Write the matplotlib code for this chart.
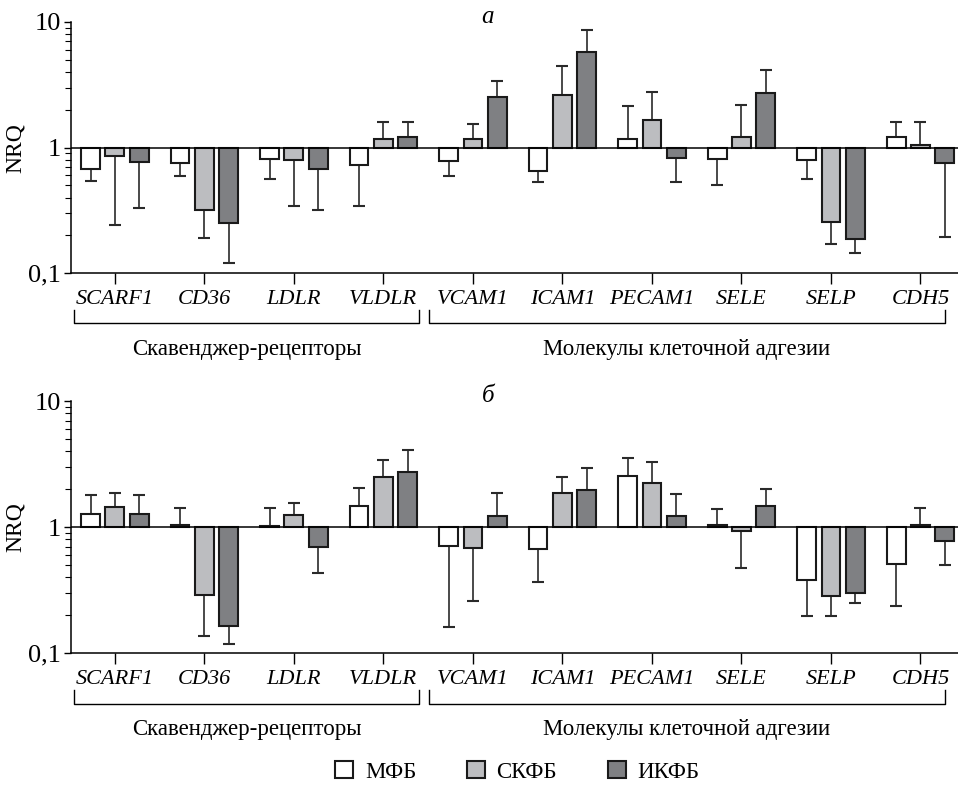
import matplotlib
matplotlib.use('Agg')
import matplotlib.pyplot as plt
from matplotlib.patches import Patch
import numpy as np

plt.rcParams['font.family'] = ['Liberation Serif', 'DejaVu Serif']

genes = ['SCARF1', 'CD36', 'LDLR', 'VLDLR', 'VCAM1', 'ICAM1', 'PECAM1', 'SELE', 'SELP', 'CDH5']
series_names = ['МФБ', 'СКФБ', 'ИКФБ']
series_colors = ['#ffffff', '#bcbdc0', '#7f8083']
group_names = ['Скавенджер-рецепторы', 'Молекулы клеточной адгезии']
panel_letters = ['а', 'б']

# panel a: NRQ values and error bar ends
a_mfb = [0.68, 0.75, 0.81, 0.72, 0.78, 0.65, 1.17, 0.81, 0.80, 1.21]
a_mfb_err = [0.54, 0.59, 0.56, 0.34, 0.59, 0.53, 2.15, 0.50, 0.56, 1.60]
a_skfb = [0.85, 0.316, 0.80, 1.18, 1.17, 2.63, 1.67, 1.21, 0.254, 1.05]
a_skfb_err = [0.24, 0.19, 0.34, 1.60, 1.53, 4.43, 2.75, 2.19, 0.17, 1.60]
a_ikfb = [0.77, 0.25, 0.67, 1.22, 2.52, 5.73, 0.82, 2.73, 0.188, 0.76]
a_ikfb_err = [0.33, 0.12, 0.32, 1.60, 3.38, 8.58, 0.53, 4.11, 0.144, 0.195]

# panel b
b_mfb = [1.28, 1.04, 1.02, 1.47, 0.71, 0.67, 2.53, 1.04, 0.38, 0.514]
b_mfb_err = [1.81, 1.43, 1.42, 2.06, 0.16, 0.37, 3.54, 1.39, 0.197, 0.238]
b_skfb = [1.45, 0.291, 1.24, 2.48, 0.68, 1.88, 2.24, 0.935, 0.284, 1.04]
b_skfb_err = [1.86, 0.137, 1.56, 3.41, 0.26, 2.52, 3.29, 0.47, 0.197, 1.42]
b_ikfb = [1.26, 0.165, 0.69, 2.76, 1.23, 1.96, 1.22, 1.47, 0.30, 0.78]
b_ikfb_err = [1.79, 0.119, 0.43, 4.12, 1.85, 2.95, 1.83, 2.01, 0.248, 0.50]

panels = [
    [(a_mfb, a_mfb_err), (a_skfb, a_skfb_err), (a_ikfb, a_ikfb_err)],
    [(b_mfb, b_mfb_err), (b_skfb, b_skfb_err), (b_ikfb, b_ikfb_err)],
]

fig = plt.figure(figsize=(9.58, 7.85), dpi=100)
ax_a = fig.add_axes([0.0741, 0.652, 0.926, 0.320])
ax_b = fig.add_axes([0.0741, 0.168, 0.926, 0.321])

x = np.arange(len(genes))
width = 0.21
offsets = [-0.272, 0, 0.272]

for ax, data, letter in zip([ax_a, ax_b], panels, panel_letters):
    ax.set_yscale('log')
    for (vals, errs), off, color in zip(data, offsets, series_colors):
        vals = np.array(vals)
        errs = np.array(errs)
        xs = x + off
        ax.vlines(xs, vals, errs, color='#2a2a2a', lw=1.2, zorder=2)
        ax.plot(xs, errs, ls='none', marker='_', ms=9, mew=1.5, color='#2a2a2a', zorder=2)
        ax.bar(xs, vals - 1, bottom=1, width=width, color=color,
               edgecolor='#1a1a1a', linewidth=1.5, zorder=3)
    ax.axhline(1, color='black', lw=1.1, zorder=4)
    ax.set_ylim(0.1, 10)
    ax.set_xlim(-0.49, 9.42)
    ax.set_yticks([0.1, 1, 10])
    ax.set_yticklabels(['0,1', '1', '10'], fontsize=19)
    ax.set_ylabel('NRQ', fontsize=17, labelpad=2)
    ax.set_xticks(x)
    ax.set_xticklabels(genes, fontsize=16, style='italic')
    ax.tick_params(axis='x', length=8, width=1, pad=4)
    ax.tick_params(axis='y', which='major', length=5, width=1, pad=2)
    ax.tick_params(axis='y', which='minor', length=4, width=0.8)
    ax.spines['top'].set_visible(False)
    ax.spines['right'].set_visible(False)
    for s in ['left', 'bottom']:
        ax.spines[s].set_linewidth(1.1)
    ax.text(0.47, 1.02, letter, transform=ax.transAxes, fontsize=18,
            style='italic', ha='center', va='center')

    # brackets grouping the genes
    tr = ax.get_xaxis_transform()
    for (x0, x1), name in zip([(-0.458, 3.40), (3.51, 9.27)], group_names):
        ax.plot([x0, x0, x1, x1], [-0.147, -0.2, -0.2, -0.147], color='black',
                lw=1, transform=tr, clip_on=False)
        ax.text((x0 + x1) / 2, -0.305, name, transform=tr, ha='center', va='center',
                fontsize=16.5)

handles = [Patch(facecolor=c, edgecolor='#1a1a1a', linewidth=1.5) for c in series_colors]
fig.legend(handles, series_names, loc='center', bbox_to_anchor=(0.54, 0.017), ncol=3,
           frameon=False, fontsize=16.5, handlelength=0.8, handleheight=0.8,
           handletextpad=0.5, columnspacing=2.2)

fig.savefig('out.png', dpi=100)
